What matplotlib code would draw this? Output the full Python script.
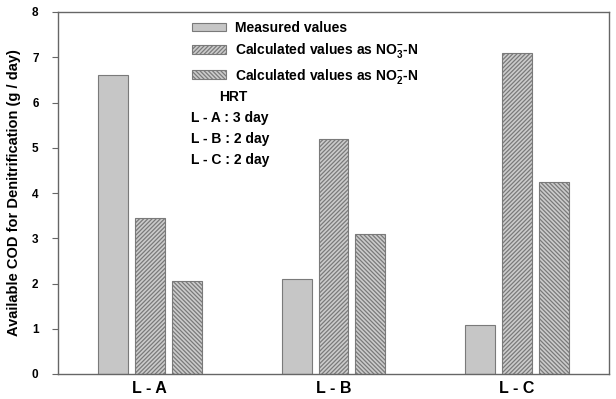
import numpy as np
import matplotlib
matplotlib.use("Agg")
from matplotlib import pyplot as plt

plt.rcParams['font.family'] = ['Liberation Sans', 'DejaVu Sans']
plt.rcParams['font.weight'] = 'bold'
plt.rcParams['mathtext.fontset'] = 'custom'
plt.rcParams['mathtext.rm'] = 'Liberation Sans:bold'
plt.rcParams['mathtext.bf'] = 'Liberation Sans:bold'
plt.rcParams['mathtext.it'] = 'Liberation Sans:bold'
plt.rcParams['hatch.color'] = '#4a4a4a'
plt.rcParams['hatch.linewidth'] = 0.9

groups = ['L - A', 'L - B', 'L - C']
measured = [6.6, 2.1, 1.08]
calc_no3 = [3.45, 5.2, 7.1]
calc_no2 = [2.06, 3.1, 4.24]
hrt_lines = ['L - A : 3 day', 'L - B : 2 day', 'L - C : 2 day']

fig = plt.figure(figsize=(6.16, 3.99), dpi=100)
# axes box: x 58..609 px, y 12..374 px
ax = fig.add_axes([58 / 616, 25 / 399, 551 / 616, 362 / 399])

x = np.arange(len(groups))
w = 0.163
off = 0.2
edge = '#7a7a7a'
ax.bar(x - off, measured, w, color='#c6c6c6', edgecolor=edge, linewidth=0.8,
       label='Measured values')
ax.bar(x, calc_no3, w, color='#cccccc', edgecolor=edge, linewidth=0.8,
       hatch='////////', label=r'Calculated values as NO$_3^{-}$-N')
ax.bar(x + off, calc_no2, w, color='#cccccc', edgecolor=edge, linewidth=0.8,
       hatch='\\\\\\\\\\\\\\\\', label=r'Calculated values as NO$_2^{-}$-N')

ax.set_xlim(-0.5, 2.5)
ax.set_ylim(0, 8)
ax.set_xticks(x)
ax.set_xticklabels(groups, fontsize=11.5, fontweight='bold')
ax.tick_params(axis='x', length=0, pad=5)
ax.tick_params(axis='y', direction='out', length=4, color='#666666',
               labelsize=8.5, pad=10)
ax.set_yticks(range(0, 9))
for s in ax.spines.values():
    s.set_color('#666666')
    s.set_linewidth(1.0)

ax.set_ylabel('Available COD for Denitrification (g / day)', fontsize=10.5,
              fontweight='bold', labelpad=8)

ax.legend(loc='upper left', bbox_to_anchor=(0.243, 0.975), frameon=False,
          fontsize=10, handlelength=2.45, handleheight=0.55, labelspacing=0.45,
          handletextpad=0.65, borderpad=0, borderaxespad=0)

ax.text(0.318, 0.765, 'HRT', transform=ax.transAxes, fontsize=10,
        fontweight='bold', ha='center', va='center')
for i, t in enumerate(hrt_lines):
    ax.text(0.241, 0.707 - i * 0.058, t, transform=ax.transAxes,
            fontsize=10, fontweight='bold', ha='left', va='center')

fig.savefig('out.png', dpi=100)
